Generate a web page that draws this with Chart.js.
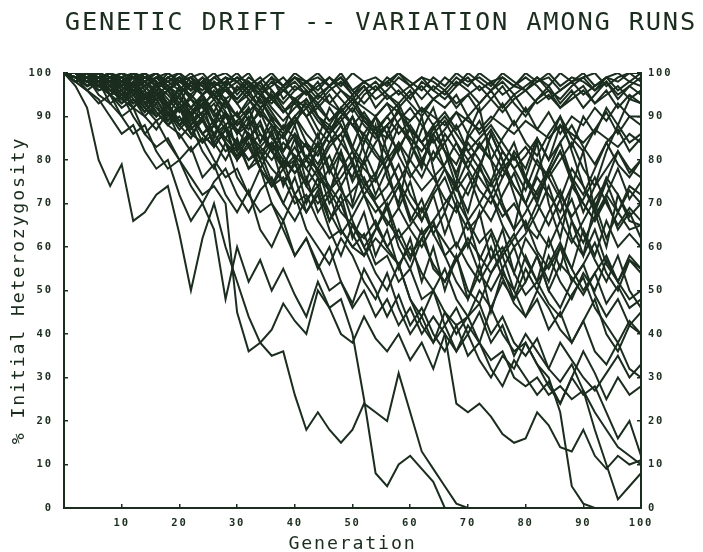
<!DOCTYPE html>
<html><head><meta charset="utf-8">
<script src="https://cdn.jsdelivr.net/npm/chart.js@4.4.1/dist/chart.umd.min.js"></script>
<style>html,body{margin:0;padding:0;background:#fff}#wrap{width:703px;height:552px}</style>
</head><body><div id="wrap"><canvas id="c" width="703" height="552"></canvas></div>
<script>
const titleText = 'GENETIC DRIFT -- VARIATION AMONG RUNS';
const xTitle = 'Generation';
const yTitle = '% Initial Heterozygosity';
const xTickValues = [10,20,30,40,50,60,70,80,90,100];
const yTickValues = [0,10,20,30,40,50,60,70,80,90,100];
const generations = [0,2,4,6,8,10,12,14,16,18,20,22,24,26,28,30,32,34,36,38,40,42,44,46,48,50,52,54,56,58,60,62,64,66,68,70,72,74,76,78,80,82,84,86,88,90,92,94,96,98,100];

const run01 = [100,97,92,80,74,79,66,68,72,74,63,50,62,70,60,52,44,38,35,36,26,18,22,18,15,18,24,22,20,31,22,13,9,5,1,0,0,0,0,0,0,0,0,0,0,0,0,0,0,0,0];
const run02 = [100,99,96,94,90,86,88,82,78,80,72,66,70,64,48,60,52,57,50,55,49,44,52,46,48,40,25,8,5,10,12,9,6,0,0,0,0,0,0,0,0,0,0,0,0,0,0,0,0,0,0];
const run03 = [100,98,99,95,93,90,92,86,83,85,80,76,72,74,70,45,36,38,41,47,43,40,50,46,40,38,44,39,36,40,34,38,32,40,36,42,38,46,40,36,38,33,30,22,5,1,0,0,0,0,0];
const run04 = [100,100,98,97,95,96,92,90,93,88,86,82,85,80,76,78,72,68,70,64,58,62,56,50,52,46,50,44,48,42,46,40,44,40,24,22,24,21,17,15,16,22,19,14,13,18,12,9,12,10,11];
const run05 = [100,99,100,97,98,94,96,92,90,93,88,90,84,86,82,84,78,80,74,76,70,72,66,62,64,60,63,56,58,52,55,48,50,45,42,44,38,34,36,30,28,30,26,28,25,27,18,10,2,5,8];
const run06 = [100,98,96,98,93,95,90,86,89,84,80,83,76,79,72,68,73,64,60,66,58,62,55,60,52,47,55,50,44,49,42,46,40,36,42,35,38,32,28,34,30,26,29,24,30,26,28,22,16,20,12];
const run07 = [100,100,97,99,95,92,94,90,87,91,85,88,82,78,84,76,72,78,70,66,72,64,60,56,62,58,52,48,54,46,40,44,38,42,36,40,34,30,35,32,38,33,28,24,30,36,31,25,30,26,28];
const run08 = [100,99,100,98,96,97,93,95,91,88,92,86,89,84,80,85,78,82,75,70,76,68,72,64,58,65,60,54,50,56,48,44,50,42,46,40,45,38,42,35,40,36,32,38,34,30,27,31,35,30,33];
const run09 = [100,100,99,97,98,95,96,93,94,90,92,88,91,86,88,83,86,80,84,78,81,74,78,70,74,66,60,64,70,62,57,64,55,52,58,50,47,54,58,50,44,48,41,45,38,43,48,40,36,42,40];
const run10 = [100,98,99,100,97,98,95,97,94,96,92,94,90,93,88,91,85,89,82,86,80,84,77,81,74,79,72,76,69,74,66,71,63,68,60,66,57,63,55,60,52,58,50,56,53,49,54,47,51,46,48];
const run11 = [100,99,97,98,95,96,92,95,90,93,88,85,90,83,87,80,84,78,74,80,72,76,68,72,64,60,58,62,59,56,48,42,38,45,40,44,50,46,52,48,55,50,58,52,48,54,50,57,52,58,55];
const run12 = [100,100,98,99,97,95,98,94,96,92,95,90,93,88,91,86,90,84,88,82,86,80,84,77,82,75,80,72,78,69,75,66,72,63,70,60,68,57,64,54,62,58,52,60,55,64,58,66,60,63,60];
const run13 = [100,98,100,96,97,93,95,91,94,89,92,87,90,84,88,80,86,78,83,74,80,70,76,66,72,62,68,58,64,55,62,52,60,50,58,48,56,45,54,50,58,52,62,55,66,58,70,62,68,64,65];
const run14 = [100,100,99,97,98,99,96,94,97,95,92,90,94,91,87,89,92,86,83,88,85,80,78,83,86,79,74,77,81,75,70,66,72,76,69,64,67,72,65,60,63,68,74,66,61,66,71,75,68,73,70];
const run15 = [100,99,100,98,96,97,99,95,93,96,92,89,91,94,90,86,88,91,85,82,86,83,79,84,88,82,78,75,80,84,77,73,76,71,68,74,79,72,67,70,65,62,68,73,66,61,67,72,78,71,75];
const run16 = [100,100,99,100,98,97,100,98,95,97,99,94,92,96,93,90,94,91,88,85,89,92,87,84,86,90,85,81,78,83,87,80,76,79,84,78,73,70,76,81,75,71,77,82,76,72,78,84,79,76,80];
const run17 = [100,100,100,99,100,98,99,100,97,98,96,99,97,94,96,98,95,92,94,97,93,90,92,95,91,88,86,90,93,88,85,82,86,89,84,80,83,87,82,78,81,85,80,84,88,83,79,84,87,82,85];
const run18 = [100,99,100,100,98,99,97,100,98,96,99,97,95,98,96,93,95,98,94,91,93,96,92,89,91,94,90,87,85,89,92,88,84,87,91,86,83,80,85,89,84,81,86,90,85,82,87,91,86,90,88];
const run19 = [100,99,100,98,100,97,99,98,96,99,97,95,98,94,97,93,96,92,95,91,94,90,93,89,92,88,91,87,90,86,89,92,88,91,87,90,86,89,93,88,92,87,91,86,90,88,92,89,93,90,90];
const run20 = [100,100,99,100,98,99,100,97,99,98,100,96,98,97,99,95,98,96,99,94,97,95,98,93,96,94,97,92,95,93,96,91,94,92,95,90,93,96,92,95,91,94,97,93,96,92,95,98,94,97,95];
const run21 = [100,100,100,99,100,98,100,99,97,100,98,99,100,97,99,98,100,96,99,97,100,98,99,97,100,96,98,99,97,100,98,96,99,97,100,98,99,97,100,98,96,99,97,100,98,99,100,97,99,100,100];
const run22 = [100,98,99,97,95,98,96,93,97,94,91,95,92,89,94,90,87,92,88,85,90,86,83,88,84,80,86,82,78,84,80,76,82,78,74,80,76,72,78,74,70,76,72,68,74,70,66,72,68,74,72];
const run23 = [100,100,98,100,99,97,100,98,96,99,97,94,98,95,92,97,94,90,96,92,88,94,90,86,92,88,84,90,86,82,88,84,80,86,82,78,84,80,76,82,78,85,80,88,83,90,86,92,88,94,93];
const run24 = [100,99,100,99,100,98,97,99,100,98,99,96,98,100,97,99,98,95,97,99,96,98,100,97,99,95,98,96,99,97,94,98,96,99,97,100,98,96,99,97,100,98,99,96,98,100,97,99,98,100,98];
const run25 = [100,100,97,99,96,98,94,91,95,92,88,90,86,89,84,81,85,88,82,78,80,84,77,73,76,80,72,68,71,75,67,63,66,70,74,66,61,64,58,62,66,59,55,60,52,56,61,54,50,57,55];
const run26 = [100,99,100,97,99,95,98,93,96,90,95,88,93,85,91,82,89,80,87,78,85,75,84,72,82,70,80,88,76,70,82,90,78,68,75,86,92,80,70,64,76,84,70,62,74,82,68,60,72,66,65];
const run27 = [100,100,99,98,100,96,99,94,98,92,97,90,95,88,94,86,92,84,90,82,88,80,86,78,84,90,82,76,86,92,84,78,88,82,74,68,78,86,80,72,64,70,78,84,76,68,74,82,88,84,86];
const run28 = [100,99,98,100,97,99,95,92,96,93,89,91,94,88,85,89,86,82,84,80,77,81,78,74,70,73,76,70,66,62,65,69,63,58,61,56,52,57,60,54,49,52,47,44,49,53,46,42,38,43,40];
const run29 = [100,100,99,100,97,98,100,96,99,97,93,98,95,91,97,93,89,95,91,87,94,90,85,92,88,83,90,86,81,88,84,79,86,82,77,84,80,75,82,78,73,80,76,71,78,74,69,76,72,67,70];
const run30 = [100,100,100,98,100,99,97,100,98,96,99,97,95,98,96,94,97,95,93,96,94,92,95,93,91,94,92,90,93,91,89,92,90,88,91,89,87,90,88,86,89,87,85,88,86,84,87,85,83,86,84];
const run31 = [100,100,98,99,96,94,97,93,90,92,88,91,86,83,87,84,80,82,78,75,79,74,70,73,68,65,62,66,60,56,60,54,50,55,48,44,47,40,44,38,35,39,32,29,33,27,22,18,14,12,10];
const run32 = [100,99,100,97,98,95,93,96,92,89,93,90,86,88,84,80,83,78,74,78,72,68,73,66,70,63,58,64,69,60,55,62,66,58,52,48,54,60,53,47,44,50,46,41,38,43,36,33,38,32,30];
const run33 = [100,98,96,93,95,90,86,88,82,78,80,74,70,75,78,72,68,73,76,70,66,71,74,68,63,67,72,65,60,64,58,62,56,52,57,61,54,50,55,48,52,58,50,46,52,56,49,44,48,42,45];
const run34 = [100,100,99,100,98,99,97,98,100,96,98,99,95,97,94,96,98,93,95,91,94,96,90,88,92,95,89,86,90,93,87,84,88,82,79,85,89,83,78,81,76,72,77,82,75,70,66,71,64,68,62];
const run35 = [100,100,100,99,98,100,99,97,99,100,98,96,99,97,98,100,97,95,98,96,99,97,94,97,99,96,93,96,98,95,97,99,96,94,97,99,96,98,95,97,99,97,94,96,98,95,97,99,96,98,97];
const run36 = [100,99,97,98,95,93,96,92,89,91,87,90,86,83,87,84,80,83,86,81,77,80,76,73,78,82,75,71,74,79,72,68,73,78,71,66,70,75,69,64,68,73,78,72,67,71,76,70,65,69,66];
const run37 = [100,100,98,99,97,99,96,98,95,97,94,92,95,97,93,90,93,96,92,89,92,94,90,87,90,93,89,86,88,91,87,84,87,90,86,82,85,88,84,80,83,79,76,80,84,78,74,78,82,77,80];
const run38 = [100,99,100,98,99,100,97,99,98,96,98,100,97,95,98,96,99,97,94,96,98,95,97,99,96,93,96,98,95,92,95,97,94,96,93,95,97,94,91,94,96,93,95,92,94,96,93,95,97,94,96];
const run39 = [100,100,99,97,99,96,98,95,97,93,96,92,95,90,93,88,91,94,89,86,90,84,81,86,90,83,79,84,88,81,76,80,85,78,73,77,70,66,72,77,70,64,60,66,71,63,57,52,58,50,46];
const run40 = [100,100,99,100,99,97,100,98,99,96,98,97,99,95,97,99,96,98,94,97,99,96,93,96,98,95,97,94,96,99,97,94,97,95,98,96,93,96,98,95,97,99,96,94,97,99,96,98,95,97,99];
const run41 = [100,99,98,96,97,94,92,95,91,88,90,86,84,88,85,82,86,83,80,84,81,78,82,86,80,76,84,90,82,75,80,87,92,84,76,72,78,86,80,74,70,77,84,90,82,74,68,75,82,78,76];
const run42 = [100,100,100,100,99,98,100,99,97,99,100,98,97,99,100,98,96,98,100,97,99,98,96,99,97,100,98,96,98,100,97,99,98,96,99,97,100,98,99,97,96,98,100,97,99,98,96,99,100,98,100];
const run43 = [100,99,100,98,96,98,95,97,94,96,93,90,93,95,91,88,91,94,90,87,90,93,89,86,89,92,88,85,88,91,87,84,80,84,88,82,78,74,79,84,76,70,65,71,62,58,64,56,52,57,54];
const run44 = [100,98,100,99,97,99,96,98,100,97,95,98,96,99,97,94,97,99,96,93,96,98,95,97,94,91,95,97,94,96,93,90,94,96,92,95,91,94,97,93,90,94,96,92,95,97,93,96,92,95,93];
const run45 = [100,100,98,99,96,94,97,93,95,91,88,92,89,86,90,87,83,86,82,79,83,78,74,78,73,69,74,70,65,69,64,60,65,61,57,62,58,54,59,63,57,52,56,61,55,50,54,58,52,48,50];

const runs = [run01,run02,run03,run04,run05,run06,run07,run08,run09,run10,run11,run12,run13,run14,run15,
  run16,run17,run18,run19,run20,run21,run22,run23,run24,run25,run26,run27,run28,run29,run30,
  run31,run32,run33,run34,run35,run36,run37,run38,run39,run40,run41,run42,run43,run44,run45];

const INK = '#1b2d1e';
const MONO = "'DejaVu Sans Mono', 'Liberation Mono', monospace";

const datasets = runs.map((r, k) => ({
  label: 'Run ' + (k + 1),
  data: r.map((v, i) => ({x: generations[i], y: v})),
  borderColor: INK,
  borderWidth: 2,
  pointRadius: 0,
  tension: 0,
  fill: false
}));

const spacingPlugin = {
  id: 'spacing',
  beforeDraw(chart) { try { chart.ctx.letterSpacing = '1.8px'; } catch (e) {} }
};

new Chart(document.getElementById('c'), {
  type: 'line',
  data: { datasets },
  plugins: [spacingPlugin],
  options: {
    responsive: false,
    devicePixelRatio: 1,
    animation: false,
    layout: { padding: { left: 0, right: 6, top: 0, bottom: 0 } },
    plugins: {
      legend: { display: false },
      tooltip: { enabled: false },
      title: {
        display: true,
        text: titleText,
        align: 'end',
        color: INK,
        font: { family: MONO, size: 25.4, weight: 'normal', lineHeight: 1.2 },
        padding: { top: 7.7, bottom: 34.8 }
      }
    },
    scales: {
      x: {
        type: 'linear', position: 'bottom', min: 0, max: 100,
        afterBuildTicks: s => { s.ticks = xTickValues.map(v => ({value: v})); },
        afterFit: s => { s.height = 44; },
        grid: { display: true, drawOnChartArea: false, drawTicks: true, tickLength: -4, color: INK, lineWidth: 1.5 },
        border: { display: true, color: INK, width: 2 },
        ticks: { color: INK, padding: 12.7, maxRotation: 0, autoSkip: false, font: { family: MONO, size: 10.5, weight: 'bold' } },
        title: { display: true, text: xTitle, color: INK, font: { family: MONO, size: 18.3, lineHeight: 0.8 }, padding: { top: 0, bottom: 0.7 } }
      },
      y: {
        type: 'linear', position: 'left', min: 0, max: 100,
        afterBuildTicks: s => { s.ticks = yTickValues.map(v => ({value: v})); },
        afterFit: s => { s.width = 64; },
        grid: { display: true, drawOnChartArea: false, drawTicks: true, tickLength: -4, color: INK, lineWidth: 1.5 },
        border: { display: true, color: INK, width: 2 },
        ticks: { color: INK, padding: 15.2, autoSkip: false, font: { family: MONO, size: 10.5, weight: 'bold' } },
        title: { display: true, text: yTitle, color: INK, font: { family: MONO, size: 18.3, lineHeight: 1.2 }, padding: { top: 8.5, bottom: 0 } }
      },
      y2: {
        type: 'linear', position: 'right', min: 0, max: 100, display: true,
        afterBuildTicks: s => { s.ticks = yTickValues.map(v => ({value: v})); },
        afterFit: s => { s.width = 56; },
        grid: { display: true, drawOnChartArea: false, drawTicks: true, tickLength: -4, color: INK, lineWidth: 1.5 },
        border: { display: true, color: INK, width: 2 },
        ticks: { color: INK, padding: 11, autoSkip: false, font: { family: MONO, size: 10.5, weight: 'bold' } }
      }
    }
  }
});
</script>
</body></html>
